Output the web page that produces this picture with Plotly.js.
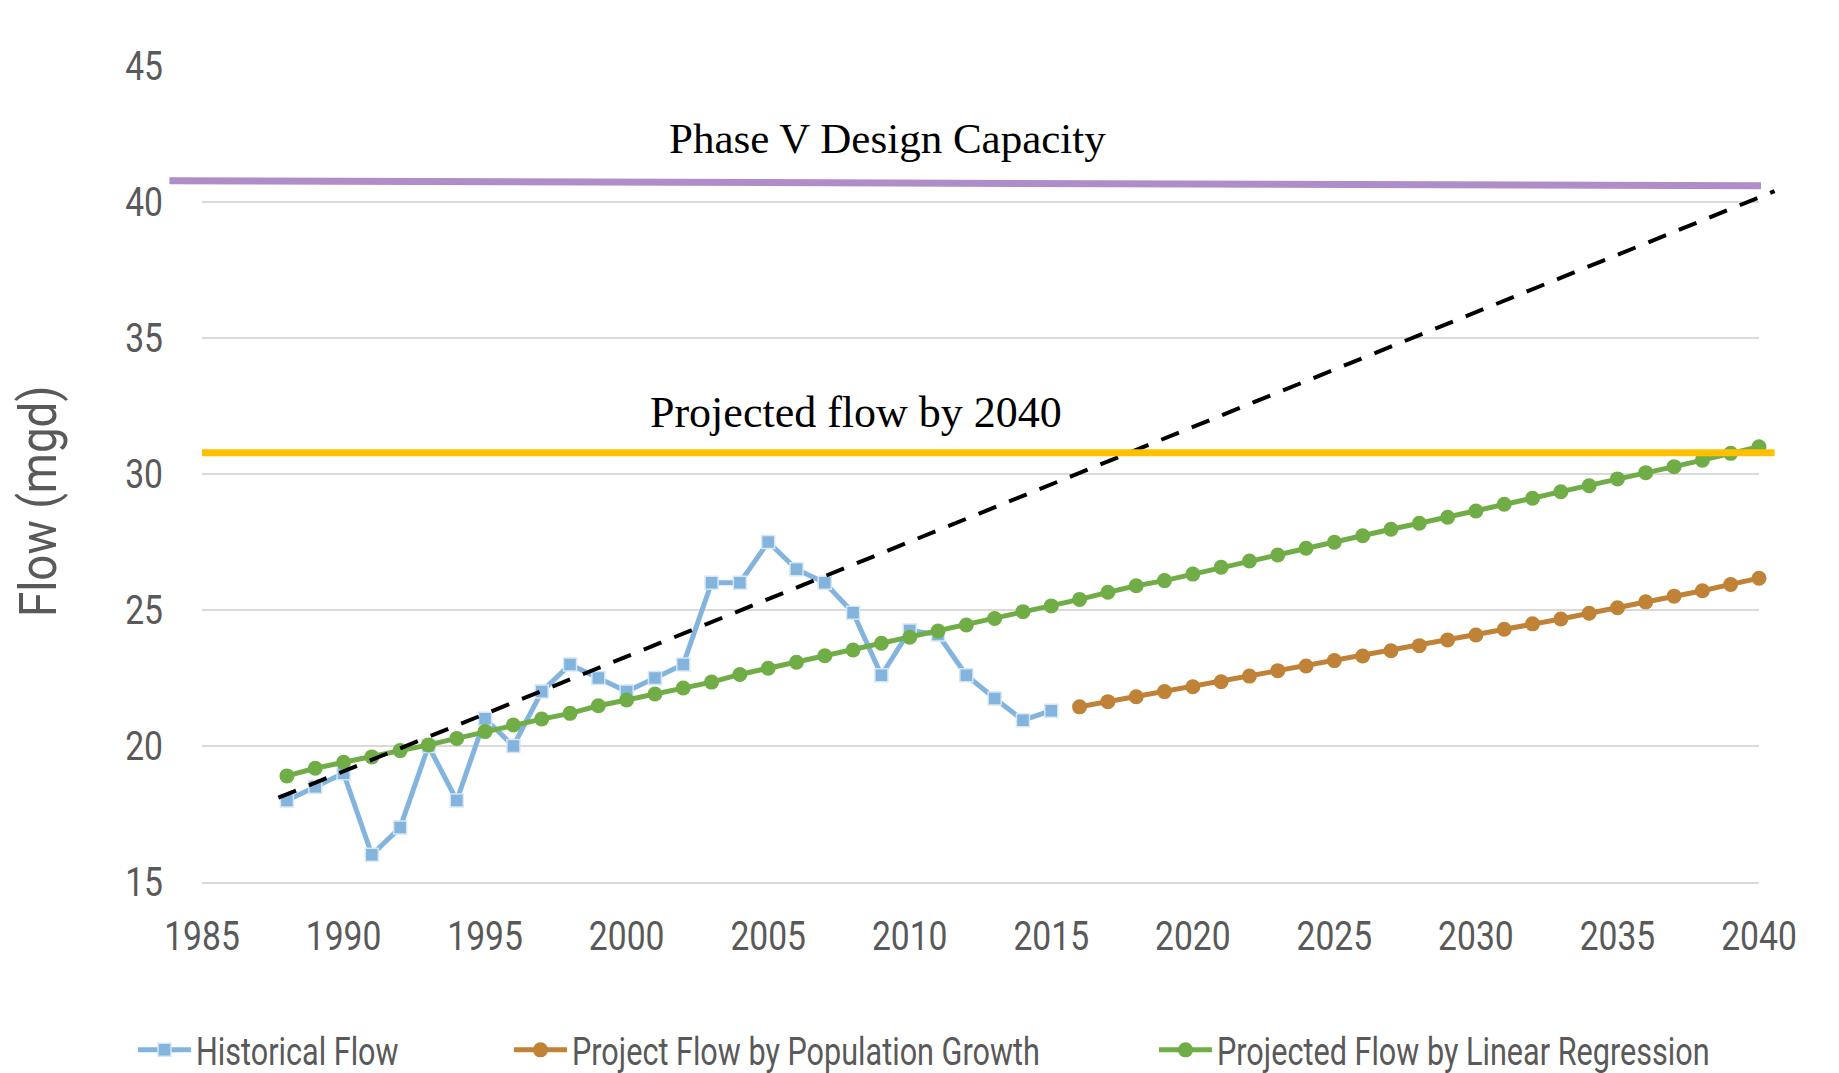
<!DOCTYPE html>
<html>
<head>
<meta charset="utf-8">
<script src="https://cdn.plot.ly/plotly-3.0.1.min.js"></script>
<style>
  html, body { margin: 0; padding: 0; background: #ffffff; }
  #chart { width: 1839px; height: 1073px; }
</style>
</head>
<body>
<div id="chart"></div>
<script>
// ---- Data ----
const histYears = [1988, 1989, 1990, 1991, 1992, 1993, 1994, 1995, 1996, 1997,
                   1998, 1999, 2000, 2001, 2002, 2003, 2004, 2005, 2006, 2007,
                   2008, 2009, 2010, 2011, 2012, 2013, 2014, 2015];
const histFlow = [18.0, 18.5, 19.0, 16.0, 17.0, 20.0, 18.0, 21.0, 20.0, 22.0,
                  23.0, 22.5, 22.0, 22.5, 23.0, 26.0, 26.0, 27.5, 26.5, 26.0,
                  24.9, 22.6, 24.25, 24.1, 22.6, 21.75, 20.95, 21.3];

const popYears = [2016, 2017, 2018, 2019, 2020, 2021, 2022, 2023, 2024, 2025,
                  2026, 2027, 2028, 2029, 2030, 2031, 2032, 2033, 2034, 2035,
                  2036, 2037, 2038, 2039, 2040];
const popFlow = [21.44, 21.63, 21.81, 22.0, 22.18, 22.36, 22.57, 22.77, 22.94, 23.14,
                 23.31, 23.5, 23.69, 23.9, 24.08, 24.29, 24.49, 24.67, 24.88, 25.08,
                 25.3, 25.51, 25.71, 25.94, 26.17];

const linYears = [1988, 1989, 1990, 1991, 1992, 1993, 1994, 1995, 1996, 1997,
                  1998, 1999, 2000, 2001, 2002, 2003, 2004, 2005, 2006, 2007,
                  2008, 2009, 2010, 2011, 2012, 2013, 2014, 2015, 2016, 2017,
                  2018, 2019, 2020, 2021, 2022, 2023, 2024, 2025, 2026, 2027,
                  2028, 2029, 2030, 2031, 2032, 2033, 2034, 2035, 2036, 2037,
                  2038, 2039, 2040];
const linFlow = [18.9, 19.18, 19.4, 19.6, 19.83, 20.04, 20.28, 20.53, 20.77, 20.99,
                 21.2, 21.48, 21.69, 21.91, 22.13, 22.35, 22.63, 22.86, 23.08, 23.32,
                 23.53, 23.78, 24.0, 24.23, 24.45, 24.69, 24.94, 25.15, 25.39, 25.65,
                 25.89, 26.08, 26.32, 26.57, 26.8, 27.02, 27.27, 27.49, 27.73, 27.97,
                 28.19, 28.41, 28.64, 28.89, 29.11, 29.35, 29.57, 29.82, 30.05, 30.27,
                 30.51, 30.76, 31.0];

// Dashed trendline of historical flow (end points)
const trendYears = [1987.7, 2040.55];
const trendFlow = [18.1, 40.4];

// Reference lines
const capacityYears = [1983.85, 2040.07];
const capacityFlow = [40.78, 40.6];
const projectedYears = [1985, 2040.55];
const projectedFlow = [30.78, 30.78];

const seriesNames = ["Historical Flow", "Project Flow by Population Growth", "Projected Flow by Linear Regression"];
const labelCapacity = "Phase V Design Capacity";
const labelProjected = "Projected flow by 2040";
const yTitle = "Flow (mgd)";

const xRange = [1985, 2040];
const yRange = [15, 45];

// ---- Styling ----
const SANS = 'Roboto, "Liberation Sans", sans-serif';
const SERIF = '"Liberation Serif", "DejaVu Serif", serif';
const GREY = '#595959';

function px(year) { return (year - xRange[0]) / (xRange[1] - xRange[0]); }

const traces = [
  {
    x: histYears, y: histFlow, name: seriesNames[0], type: 'scatter', mode: 'lines+markers',
    line: { color: '#83B4DD', width: 5 },
    marker: { symbol: 'square', size: 13, color: '#83B4DD', line: { color: '#d6e6f5', width: 1.5 } },
    cliponaxis: false, legend: 'legend', showlegend: true
  },
  {
    x: popYears, y: popFlow, name: seriesNames[1], type: 'scatter', mode: 'lines+markers',
    line: { color: '#BF8236', width: 5 },
    marker: { symbol: 'circle', size: 15, color: '#BF8236' },
    cliponaxis: false, legend: 'legend2', showlegend: true
  },
  {
    x: linYears, y: linFlow, name: seriesNames[2], type: 'scatter', mode: 'lines+markers',
    line: { color: '#70AD47', width: 5 },
    marker: { symbol: 'circle', size: 15, color: '#70AD47' },
    cliponaxis: false, legend: 'legend3', showlegend: true
  }
];

function legendBox(xPix) {
  return {
    orientation: 'h', xref: 'container', yref: 'container',
    x: xPix / 1839, y: 23 / 1073, xanchor: 'left', yanchor: 'middle',
    font: { family: SANS, size: 39, color: GREY },
    itemwidth: 53, bgcolor: 'rgba(0,0,0,0)', borderwidth: 0
  };
}

const layout = {
  width: 1839, height: 1073, autosize: false,
  margin: { l: 202, r: 80, t: 66, b: 191, pad: 0 },
  paper_bgcolor: '#ffffff', plot_bgcolor: '#ffffff',
  showlegend: true,
  legend: legendBox(133),
  legend2: legendBox(509),
  legend3: legendBox(1154),
  xaxis: {
    range: xRange, tick0: 1985, dtick: 5, showgrid: false, zeroline: false,
    showline: true, linecolor: '#d9d9d9', linewidth: 1.5, ticks: '',
    tickfont: { family: SANS, size: 41, color: GREY }, ticklabelstandoff: 17,
    fixedrange: true
  },
  yaxis: {
    range: yRange, tick0: 15, dtick: 5, showgrid: true, gridcolor: '#d9d9d9', gridwidth: 1.5,
    zeroline: false, showline: false, ticks: '',
    tickfont: { family: SANS, size: 41, color: GREY }, ticklabelstandoff: 38,
    fixedrange: true
  },
  shapes: [
    { type: 'line', layer: 'above', xref: 'paper', yref: 'y',
      x0: px(trendYears[0]), y0: trendFlow[0], x1: px(trendYears[1]), y1: trendFlow[1],
      line: { color: '#000000', width: 4, dash: '19px,13.85px' } },
    { type: 'line', layer: 'above', xref: 'paper', yref: 'y',
      x0: px(capacityYears[0]), y0: capacityFlow[0], x1: px(capacityYears[1]), y1: capacityFlow[1],
      line: { color: '#AF8DC9', width: 7 } },
    { type: 'line', layer: 'above', xref: 'paper', yref: 'y',
      x0: px(projectedYears[0]), y0: projectedFlow[0], x1: px(projectedYears[1]), y1: projectedFlow[1],
      line: { color: '#FFC000', width: 7 } }
  ],
  annotations: [
    { text: labelCapacity, xref: 'paper', yref: 'paper', x: 0.44, y: 0.911,
      xanchor: 'center', yanchor: 'middle', showarrow: false,
      font: { family: SERIF, size: 43, color: '#000000' } },
    { text: labelProjected, xref: 'paper', yref: 'paper', x: 0.42, y: 0.575,
      xanchor: 'center', yanchor: 'middle', showarrow: false,
      font: { family: SERIF, size: 44, color: '#000000' } },
    { text: yTitle, xref: 'paper', yref: 'paper', x: -0.1047, y: 0.467,
      xanchor: 'center', yanchor: 'middle', showarrow: false, textangle: -90,
      font: { family: SANS, size: 52, color: GREY } }
  ]
};

// Horizontally condense the sans text (the reference uses a narrow face)
function squeezeEl(t, f) {
  const cur = t.getAttribute('transform') || '';
  const tag = 'scale(' + f + ',1)';
  if (cur.indexOf(tag) !== -1) return;
  const x = parseFloat(t.getAttribute('x')) || 0;
  t.setAttribute('transform', cur + ' translate(' + x + ',0) ' + tag + ' translate(' + (-x) + ',0)');
}
function squeeze(selector, f) {
  document.querySelectorAll(selector).forEach(function (t) { squeezeEl(t, f); });
}
function squeezeAll() {
  squeeze('.xtick text', 0.82);
  squeeze('.ytick text', 0.82);
  squeeze('.legendtext', 0.785);
  squeeze('[class*="legend"] .traces text', 0.785);
  squeeze('.annotation[data-index="2"] text.annotation-text', 0.88);
}

const gd = document.getElementById('chart');
const obs = new MutationObserver(function () { squeezeAll(); });
obs.observe(gd, { childList: true, subtree: true, attributes: true, attributeFilter: ['transform', 'x'] });
Plotly.newPlot(gd, traces, layout, { displayModeBar: false, staticPlot: true }).then(function () {
  squeezeAll();
  [0, 50, 200, 500, 1000, 2000].forEach(function (ms) { setTimeout(squeezeAll, ms); });
});
</script>
</body>
</html>
